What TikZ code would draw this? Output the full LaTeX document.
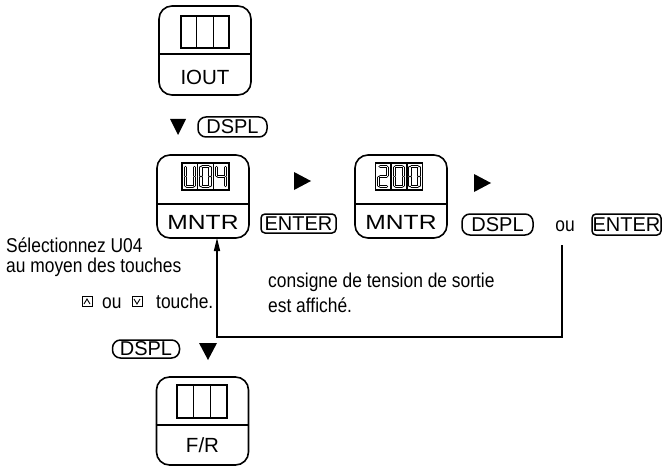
\documentclass[tikz,border=0pt]{standalone}
\usepackage{fontspec}
\usepackage{graphicx}
\setmainfont{Liberation Sans}
\newfontfamily\narrowfont{Liberation Sans}[FakeStretch=0.87]
\usetikzlibrary{arrows.meta,calc}
\tikzset{
 panel/.style={draw, line width=1.6pt, rounded corners=13pt, minimum width=92pt, inner sep=0pt},
 display/.style={draw, line width=1.4pt, inner sep=0pt},
 divline/.style={line width=1.3pt},
 keybox/.style={draw, line width=1.5pt, rounded corners=6pt, inner sep=0pt, minimum height=20pt, font=\fontsize{20}{24}\selectfont},
 lbl/.style={font=\fontsize{20.5}{24}\selectfont, inner sep=0pt},
 body/.style={font=\narrowfont\fontsize{20}{24}\selectfont, inner sep=0pt},
 segline/.style={draw=black, double=white, line width=1pt, double distance=1.3pt, line cap=round},
 fb/.style={line width=1.3pt},
 minikey/.style={draw, line width=1pt, minimum size=10pt, inner sep=0pt},
 caret/.style={line width=0.9pt},
}
\newcommand\segdigit[3]{%
 \begin{scope}[shift={(#1,#2)}]
 \draw[segline] #3;
 \end{scope}}
\def\sga{(4.6,3.2)--(11,3.2)}
\def\sgf{(3.3,4.5)--(3.3,12.5)}
\def\sgb{(12.3,4.5)--(12.3,12.5)}
\def\sgg{(4.6,13.5)--(11,13.5)}
\def\sge{(3.3,14.5)--(3.3,22.5)}
\def\sgc{(12.3,14.5)--(12.3,22.5)}
\def\sgd{(4.6,23.8)--(11,23.8)}
\newcommand\cells[1]{%
 \draw[display] ($(#1.north west)!1/3!(#1.north east)$) -- ($(#1.south west)!1/3!(#1.south east)$);
 \draw[display] ($(#1.north west)!2/3!(#1.north east)$) -- ($(#1.south west)!2/3!(#1.south east)$);}
\begin{document}
\begin{tikzpicture}[x=1pt,y=-1pt]
\useasboundingbox (0,0) rectangle (664,468);

% panel 1 IOUT
\node[panel, minimum height=89pt] (p1) at (205,50.5) {};
\draw[divline] (p1.west |- 0,54) -- (p1.east |- 0,54);
\node[display, minimum width=48pt, minimum height=32pt] (d1) at (205,32) {};
\cells{d1}
\node[lbl] (l1) at (205,77) {IOUT};

% top DSPL
\fill (170,119) -- (186,119) -- (178,135) -- cycle;
\node[keybox, rounded corners=8pt, minimum width=69pt] (k1) at (232.5,127) {DSPL};

% panel 2 MNTR
\node[panel, minimum height=83pt] (p2) at (203,196.5) {};
\draw[divline] (p2.west |- 0,204) -- (p2.east |- 0,204);
\node[display, minimum width=47pt, minimum height=27pt] (d2) at (205.5,176.5) {};
\cells{d2}
\segdigit{182}{163}{\sgb \sgc \sgd \sge \sgf}
\segdigit{197.67}{163}{\sga \sgb \sgc \sgd \sge \sgf}
\segdigit{213.33}{163}{\sgf \sgg \sgb \sgc}
\node[lbl] (l2) at (203,222) {\scalebox{1.2}[1]{MNTR}};

\fill (294,172) -- (311,181) -- (294,190) -- cycle;
\node[keybox, rounded corners=4pt, minimum width=75pt, minimum height=19pt] (k2) at (298.5,223.5) {ENTER};

% panel 3 MNTR
\node[panel, minimum height=83pt] (p3) at (401,196.5) {};
\draw[divline] (p3.west |- 0,204) -- (p3.east |- 0,204);
\node[display, minimum width=47pt, minimum height=27pt] (d3) at (399,176.5) {};
\cells{d3}
\segdigit{375.5}{163}{\sga \sgb \sgg \sge \sgd}
\segdigit{391.17}{163}{\sga \sgb \sgc \sgd \sge \sgf}
\segdigit{406.83}{163}{\sga \sgb \sgc \sgd \sge \sgf}
\node[lbl] (l3) at (401,222) {\scalebox{1.2}[1]{MNTR}};

\fill (474,174) -- (491,183) -- (474,192) -- cycle;
\node[keybox, rounded corners=8pt, minimum width=71pt, minimum height=21pt] (k3) at (497.5,224.5) {DSPL};
\node[body, anchor=base] (ou2) at (565,231) {ou};
\node[keybox, rounded corners=4pt, minimum width=69pt, minimum height=21pt] (k4) at (626.5,224.5) {ENTER};

% feedback loop
\coordinate (fbs) at (562,245);
\coordinate (fbc) at (217,337);
\coordinate (fbe) at (217,238);
\draw[fb, -{Triangle[width=6pt,length=13pt]}] (fbs) |- (fbc) -- (fbe);

% left text
\node[body, anchor=base west] (s1) at (6,252) {Sélectionnez U04};
\node[body, anchor=base west] (s2) at (6,272) {au moyen des touches};
\node[minikey] (ku) at (87,301.5) {};
\draw[caret] ([shift={(-3,2.5)}]ku.center) -- ([shift={(0,-2.5)}]ku.center) -- ([shift={(3,2.5)}]ku.center);
\node[body, anchor=base west] (ou1) at (102,308) {ou};
\node[minikey] (kd) at (137,301.5) {};
\draw[caret] ([shift={(-3,-2.5)}]kd.center) -- ([shift={(0,2.5)}]kd.center) -- ([shift={(3,-2.5)}]kd.center);
\node[body, anchor=base west] (tc) at (156,308) {touche.};

% middle text
\node[body, anchor=base west] (c1) at (268,287) {consigne de tension de sortie};
\node[body, anchor=base west] (c2) at (268,312) {est affiché.};

% bottom DSPL
\node[keybox, rounded corners=8pt, minimum width=67pt, minimum height=18pt] (k5) at (146,349) {DSPL};
\fill (199,343) -- (217,343) -- (208,360) -- cycle;

% panel 4 F/R
\node[panel, minimum height=88pt] (p4) at (202.5,421) {};
\draw[divline] (p4.west |- 0,425) -- (p4.east |- 0,425);
\node[display, minimum width=50pt, minimum height=33pt] (d4) at (202,401.5) {};
\cells{d4}
\node[lbl] (l4) at (202.5,445) {F/R};
\end{tikzpicture}
\end{document}
